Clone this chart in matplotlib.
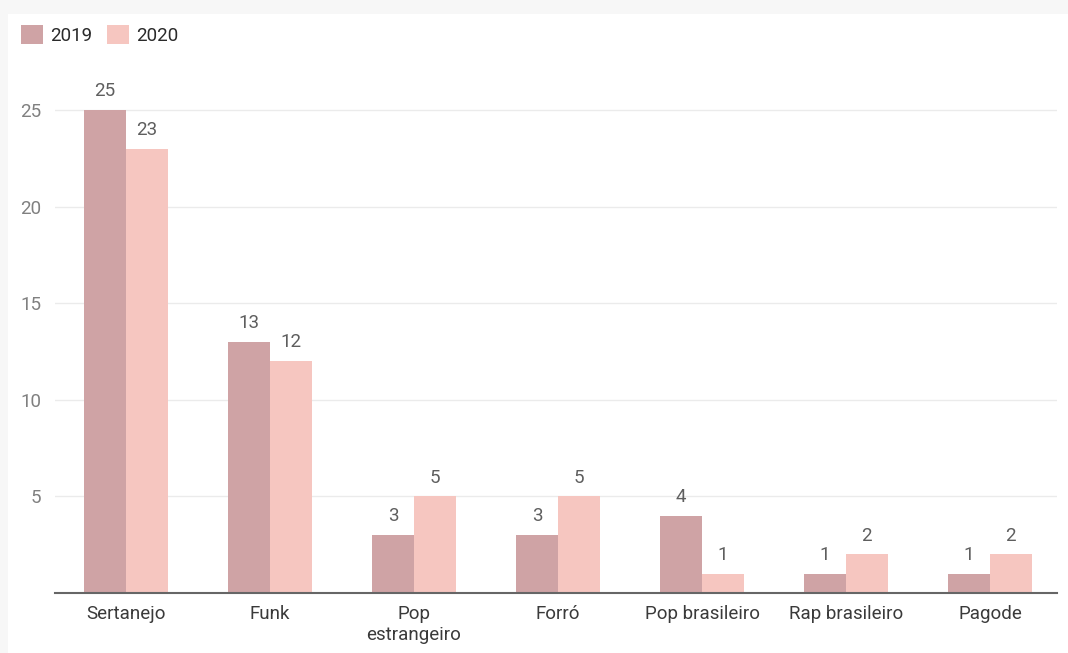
import numpy as np
import matplotlib.pyplot as plt
from matplotlib.patches import Rectangle

# Data
categories = ['Sertanejo', 'Funk', 'Pop\nestrangeiro', 'Forró',
              'Pop brasileiro', 'Rap brasileiro', 'Pagode']
values_2019 = [25, 13, 3, 3, 4, 1, 1]
values_2020 = [23, 12, 5, 5, 1, 2, 2]
series_names = ['2019', '2020']
yticks = [5, 10, 15, 20, 25]

color_2019 = '#cfa3a5'
color_2020 = '#f6c6c0'

plt.rcParams['font.family'] = ['Roboto', 'DejaVu Sans']

fig = plt.figure(figsize=(10.68, 6.53), dpi=100)
fig.patch.set_facecolor('#f7f7f7')
# white card inside the grey frame
fig.add_artist(Rectangle((8 / 1068, 0), 1, 1 - 14 / 653,
                         transform=fig.transFigure, facecolor='white',
                         edgecolor='none', zorder=0))

ax = fig.add_axes([55 / 1068, 1 - 593 / 653, 1002 / 1068, (593 - 71.3) / 653])
ax.set_facecolor('none')

x = np.arange(len(categories))
w = 0.29
bars1 = ax.bar(x - w / 2, values_2019, width=w, color=color_2019, label=series_names[0], zorder=2)
bars2 = ax.bar(x + w / 2, values_2020, width=w, color=color_2020, label=series_names[1], zorder=2)

for bars in (bars1, bars2):
    for b in bars:
        ax.annotate(f'{int(b.get_height())}',
                    (b.get_x() + b.get_width() / 2, b.get_height()),
                    xytext=(0, 7), textcoords='offset points',
                    ha='center', va='bottom', fontsize=13.5, color='#5e5e5e')

ax.set_xlim(-0.493, 6.465)
ax.set_ylim(0, 27)
ax.set_yticks(yticks)
ax.set_xticks(x)
ax.set_xticklabels(categories, fontsize=13.5, color='#3a3a3a', linespacing=1.25)
ax.tick_params(axis='y', length=0, pad=10, labelsize=13.5, labelcolor='#808080')
ax.tick_params(axis='x', length=0, pad=8.5)
ax.grid(axis='y', color='#ebebeb', linewidth=1, zorder=0)

for s in ['top', 'right', 'left']:
    ax.spines[s].set_visible(False)
ax.spines['bottom'].set_color('#666666')
ax.spines['bottom'].set_linewidth(1.5)
ax.spines['bottom'].set_zorder(3)

fig.legend(handles=[bars1, bars2], labels=series_names, loc='upper left',
           bbox_to_anchor=(21 / 1068, 1 - 25 / 653), ncol=2, frameon=False,
           fontsize=13.5, handlelength=1.17, handleheight=1.17, handletextpad=0.4,
           columnspacing=0.75, borderpad=0, borderaxespad=0,
           labelcolor='#2a2a2a')

fig.savefig('out.png', dpi=100, facecolor=fig.get_facecolor())
